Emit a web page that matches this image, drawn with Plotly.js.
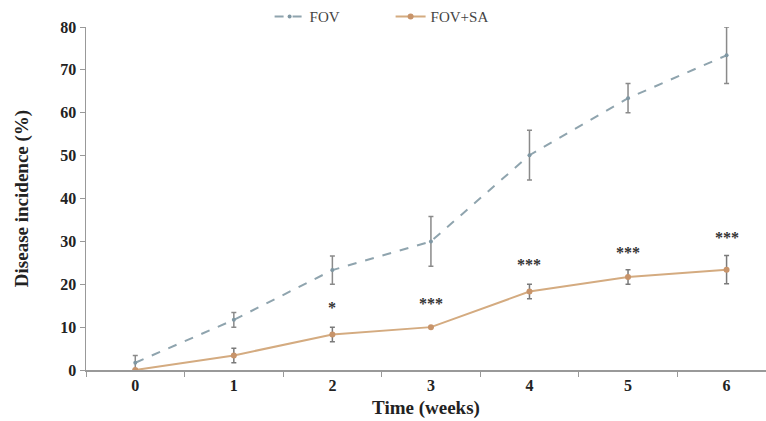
<!DOCTYPE html>
<html>
<head>
<meta charset="utf-8">
<script src="https://cdn.plot.ly/plotly-3.0.1.min.js"></script>
<style>html,body{margin:0;padding:0;background:#fff;}#chart{width:766px;height:421px;}</style>
</head>
<body>
<div id="chart"></div>
<script>
const weeks = ["0", "1", "2", "3", "4", "5", "6"];
const fov = [1.7, 11.7, 23.3, 30.0, 50.1, 63.4, 73.4];
const fovErr = [1.7, 1.7, 3.3, 5.8, 5.8, 3.4, 6.6];
const fovSa = [0, 3.4, 8.3, 10.0, 18.3, 21.7, 23.4];
const fovSaErr = [0, 1.7, 1.7, 0, 1.7, 1.7, 3.3];
const sigWeeks = ["2", "3", "4", "5", "6"];
const sigLabels = ["*", "***", "***", "***", "***"];
const sigY = [14.6, 15.6, 24.5, 27.3, 30.8];

const font = "'Liberation Serif', 'Times New Roman', serif";

const traces = [
  {
    x: weeks, y: fov, name: "FOV", type: "scatter", mode: "lines+markers",
    line: {color: "#8fa4ae", width: 2, dash: "dash"},
    marker: {color: "#7f97a3", size: 4},
    error_y: {type: "data", array: fovErr, visible: true, color: "#8a8a8a", thickness: 1.5, width: 2.5}
  },
  {
    x: weeks, y: fovSa, name: "FOV+SA", type: "scatter", mode: "lines+markers",
    line: {color: "#d4ab80", width: 2},
    marker: {color: "#c8946a", size: 6},
    error_y: {type: "data", array: fovSaErr, visible: true, color: "#7a7a7a", thickness: 1.5, width: 2.5}
  }
];

const annotations = sigWeeks.map((w, i) => ({
  x: w, y: sigY[i], xref: "x", yref: "y", text: "<b>" + sigLabels[i] + "</b>", showarrow: false,
  font: {family: font, size: 16, color: "#333"}
}));

const layout = {
  width: 766, height: 421,
  margin: {l: 86, r: 0, t: 24, b: 51},
  paper_bgcolor: "#fff", plot_bgcolor: "#fff",
  font: {family: font, color: "#222"},
  showlegend: true,
  legend: {
    orientation: "h", x: 0.27, xanchor: "left", y: 1.03, yanchor: "middle",
    font: {family: font, size: 15, color: "#444"},
    entrywidth: 76, entrywidthmode: "pixels", bgcolor: "rgba(0,0,0,0)"
  },
  xaxis: {
    type: "category", range: [-0.5, 6.4], tickson: "boundaries",
    showline: true, linecolor: "#999", linewidth: 1.5,
    ticks: "outside", ticklen: 5, tickcolor: "#999",
    showgrid: false, zeroline: false,
    tickfont: {family: font, size: 16, color: "#222", weight: "bold"},
    title: {text: "<b>Time (weeks)</b>", font: {family: font, size: 19, color: "#222"}, standoff: 8}
  },
  yaxis: {
    range: [0, 80], dtick: 10,
    showline: true, linecolor: "#999", linewidth: 1.5,
    ticks: "outside", ticklen: 5, tickcolor: "#999",
    showgrid: false, zeroline: false,
    tickfont: {family: font, size: 16, color: "#222", weight: "bold"},
    title: {text: "<b>Disease incidence (%)</b>", font: {family: font, size: 19, color: "#222"}, standoff: 26}
  },
  annotations: annotations
};

Plotly.newPlot("chart", traces, layout, {displayModeBar: false, staticPlot: true});
</script>
</body>
</html>
